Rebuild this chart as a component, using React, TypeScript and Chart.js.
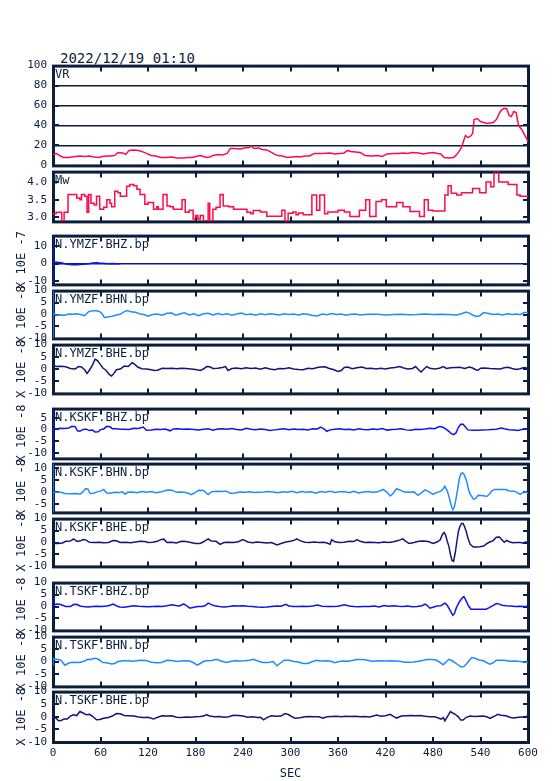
import { useEffect, useRef } from 'react';
import { Chart, registerables } from 'chart.js';

Chart.register(...registerables);

type Pt = [number, number];

// ---------- data ----------
const titleText = '2022/12/19 01:10';
const xTicks = [0, 60, 120, 180, 240, 300, 360, 420, 480, 540, 600];
const vrTicks = [0, 20, 40, 60, 80, 100];
const mwTicks = [3.0, 3.5, 4.0];
const bhz7Ticks = [-10, 0, 10];
const stdTicks = [-10, -5, 0, 5, 10];
const ksBHZTicks = [-10, -5, 0, 5];
const ksBHNTicks = [-5, 0, 5, 10];

const vrData: Pt[] = [
  [0, 11], [4, 12], [8, 10], [13, 8], [20, 8], [28, 9], [34, 9.5], [40, 9], [46, 9.5], [52, 8.5], [58, 8], [62, 9],
  [68, 9.5], [74, 9.5], [78, 10], [82, 13], [88, 12.5], [92, 11], [96, 15], [102, 15.5], [108, 15], [112, 14],
  [118, 12], [124, 10], [130, 9.5], [136, 8], [142, 8], [150, 8.5], [156, 7.5], [164, 7.5], [170, 8], [176, 8],
  [180, 9], [186, 10], [190, 9], [194, 8], [198, 8.5], [202, 10], [208, 11], [214, 10.5], [220, 12], [224, 17],
  [230, 17], [236, 16.5], [242, 17.5], [248, 18], [250, 19.5], [254, 17], [260, 17.5], [264, 16], [270, 15.5],
  [276, 13], [280, 11], [284, 10], [290, 9.5], [296, 8], [302, 8.5], [308, 9], [312, 8.5], [318, 9.5], [324, 9.5],
  [330, 12], [340, 12], [350, 12.5], [356, 11.5], [362, 12], [368, 12.5], [372, 15], [376, 14], [382, 13.5],
  [388, 13], [394, 10], [402, 9.5], [410, 10], [416, 9], [422, 11.5], [430, 12], [436, 12], [442, 12.5], [448, 12],
  [454, 13], [462, 12.5], [468, 11.5], [474, 12.5], [480, 13], [486, 12], [490, 11.5], [494, 8], [500, 7.5],
  [506, 8], [510, 11], [513, 14], [516, 18], [518, 23], [521, 30], [524, 28], [527, 29], [530, 32], [532, 46],
  [536, 47], [540, 44], [548, 42], [556, 43], [560, 46], [565, 54], [569, 57], [573, 57], [576, 50], [579, 49],
  [582, 54], [585, 53], [588, 40], [592, 36], [596, 30], [600, 24],
];

const mwData: Pt[] = [
  [0, 3.1], [4, 3.14], [11, 2.9], [14, 3.14], [19, 3.65], [30, 3.55], [34, 3.5], [36, 3.65], [40, 3.6], [43, 3.14],
  [45, 3.65], [48, 3.4], [52, 3.35], [55, 3.6], [59, 3.23], [64, 3.28], [68, 3.5], [72, 3.4], [74, 3.3], [78, 3.74],
  [82, 3.7], [85, 3.6], [93, 3.88], [97, 3.93], [102, 3.9], [106, 3.8], [110, 3.65], [116, 3.37], [120, 3.42],
  [127, 3.23], [131, 3.3], [133, 3.23], [139, 3.65], [144, 3.32], [148, 3.3], [152, 3.23], [163, 3.5], [167, 3.14],
  [172, 3.2], [177, 2.95], [180, 3.05], [183, 2.95], [186, 3.05], [190, 2.9], [196, 3.4], [198, 2.9], [202, 3.23],
  [206, 3.28], [211, 3.65], [215, 3.32], [222, 3.3], [228, 3.23], [245, 3.14], [250, 3.1], [253, 3.19], [262, 3.15],
  [270, 3.03], [289, 3.2], [293, 2.88], [297, 3.11], [303, 3.15], [307, 3.07], [310, 3.12], [316, 3.07], [327, 3.63],
  [333, 3.2], [337, 3.63], [343, 3.1], [347, 3.15], [360, 3.2], [368, 3.15], [375, 3.02], [387, 3.2], [395, 3.5],
  [400, 3.02], [408, 3.45], [415, 3.5], [421, 3.3], [434, 3.42], [442, 3.3], [451, 3.16], [463, 3.02], [469, 3.5],
  [474, 3.2], [480, 3.18], [495, 3.63], [499, 3.9], [503, 3.68], [510, 3.63], [516, 3.7], [530, 3.82], [539, 3.7],
  [547, 4.0], [553, 3.87], [557, 4.3], [563, 4.0], [575, 3.93], [586, 3.63], [590, 3.6], [600, 3.6],
];

const yzBHZ: Pt[] = [
  [0, -11.7], [0, 15.8], [0, 1.0], [5, 0.8], [10, 0.5], [18, -0.3], [24, -0.6], [30, -0.6], [38, -0.3], [45, 0],
  [50, 0.3], [55, 0.5], [58, 0.3], [62, 0.2], [70, 0], [75, 0.1], [80, 0], [85, 0],
];

const yzBHN: Pt[] = [
  [0, 10], [0, -10], [0, 0.4], [5, -0.3], [10, -0.2], [15, -0.3], [20, 0.2], [25, 0.1], [30, 0.3], [35, 0],
  [40, -0.5], [45, 1.2], [50, 1.6], [55, 1.6], [59, 1.2], [62, 0.3], [65, -1.3], [70, -0.9], [75, -0.7], [80, -0.2],
  [85, 0.1], [90, 1.2], [94, 1.7], [98, 1.1], [104, 0.9], [110, 0.2], [115, 0], [120, -0.7], [126, 0], [132, 0.2],
  [138, -0.3], [144, 0.5], [150, 0.6], [155, -0.3], [160, 0.2], [166, 0.7], [172, -0.2], [178, 0.3], [184, -0.5],
  [190, 0.3], [196, 0.5], [202, -0.2], [208, 0.4], [214, -0.1], [220, 0.3], [226, -0.3], [232, 0.2], [238, 0.6],
  [244, -0.1], [250, 0.2], [256, -0.3], [262, 0.3], [268, -0.1], [274, 0.3], [280, 0.1], [286, -0.2], [292, 0.3],
  [298, 0], [304, 0.2], [310, -0.2], [316, 0.3], [322, 0.1], [328, -0.4], [334, -0.6], [340, 0.2], [346, -0.1],
  [352, 0.4], [358, 0], [364, 0.2], [370, -0.3], [376, 0.1], [382, 0.2], [388, -0.2], [394, 0], [400, 0.1],
  [410, 0.1], [420, -0.2], [430, 0], [440, 0.1], [450, -0.1], [460, 0], [470, 0.2], [480, 0], [490, 0.1], [500, 0],
  [510, -0.2], [516, 0.3], [522, 1.0], [526, 0.6], [530, -0.2], [535, -0.8], [539, -0.5], [544, 0.8], [550, 0.4],
  [556, 0], [562, 0.2], [568, -0.2], [574, 0.3], [580, 0], [586, 0.2], [590, -0.1], [595, 0.8], [600, 0.8],
];

const yzBHE: Pt[] = [
  [0, 1.7], [4, 1.0], [10, 1.1], [16, 0.9], [22, 0.2], [28, 0], [32, 1.0], [36, 0.8], [40, -0.3], [43, -1.8],
  [46, -0.5], [50, 1.7], [53, 4.0], [56, 3.5], [59, 2.2], [63, 0.4], [67, -0.5], [71, -2.2], [74, -2.9], [77, -1.8],
  [80, -0.3], [85, 0], [90, 1.2], [95, 1.0], [100, 2.6], [103, 2.0], [107, 0.8], [112, 0.1], [118, 0], [124, -0.3],
  [128, -0.6], [132, -0.5], [138, 0.3], [144, 0.2], [150, 0.3], [156, 0.1], [162, 0.3], [168, 0.2], [174, 0],
  [180, -0.2], [186, -0.6], [190, 0], [194, 1.0], [198, 0.9], [202, 0.2], [208, 0.3], [214, 0.6], [218, 1.0],
  [221, -0.6], [226, 0.2], [232, 0.4], [238, 0.1], [244, 0.5], [250, 0.2], [256, 0.4], [262, -0.1], [268, 0.5],
  [274, 0], [280, -0.3], [286, 0.2], [292, 0.1], [298, 0.5], [304, 0], [310, -0.2], [316, -0.3], [322, 0.3],
  [328, 0.1], [334, 0.6], [338, 0.8], [344, 0.9], [348, 0.3], [354, -0.2], [360, -1.0], [364, -0.6], [368, 0.6],
  [372, 0.8], [378, 0.1], [384, 0.5], [390, 0.8], [396, 0.2], [402, 0.3], [408, 0], [414, 0.3], [420, 0],
  [426, 0.4], [432, 0.6], [438, 1.0], [442, 0.5], [448, 0], [454, 0.2], [458, 1.0], [462, -0.4], [465, -1.2],
  [468, -0.2], [472, 1.0], [476, 0.3], [482, 0], [488, 0.3], [493, 1.0], [497, 0.2], [502, 0.5], [508, 0.6],
  [514, 0.7], [520, 0.2], [526, 0.8], [530, 0.4], [534, -0.3], [537, -0.5], [540, 0.3], [545, 0.4], [552, 0.2],
  [558, 0.1], [565, 0], [570, 0.5], [575, 0.7], [580, 0.2], [585, -0.2], [590, 0.1], [595, 0.6], [600, 0.3],
];

const ksBHZ: Pt[] = [
  [0, 8.9], [0, -12.4], [0, -0.1], [4, 0.1], [8, 0.5], [14, 0.4], [20, 0.6], [24, 1.3], [28, 1.2], [31, -0.6],
  [34, -0.8], [38, 0], [42, 0.1], [46, -0.5], [50, -0.3], [53, -1.1], [57, -1.0], [60, -0.1], [64, 0.2], [68, 1.3],
  [72, 1.1], [75, 0.3], [80, 0.3], [85, 0.1], [90, 0.1], [96, 0], [102, 0.5], [108, 0.4], [114, 1.0], [118, -0.4],
  [124, -0.3], [130, 0.1], [136, 0], [142, 0.2], [148, -0.6], [152, 0.2], [158, 0.3], [164, 0.1], [170, 0.2],
  [178, 0], [184, -0.2], [190, 0.1], [196, 0.3], [202, -0.3], [208, 0.2], [214, 0.3], [220, 0.1], [226, 0.4],
  [232, 0], [238, -0.2], [244, 0.5], [250, 0.1], [256, -0.1], [262, 0.2], [268, 0], [274, -0.5], [280, -0.2],
  [286, 0.1], [292, 0.3], [298, -0.1], [304, 0.2], [310, 0], [316, 0.1], [322, -0.2], [328, 0.3], [334, 0.2],
  [338, 1.0], [342, 0.2], [346, -0.8], [350, -0.2], [356, 0.1], [362, 0.3], [368, 0], [374, 0.1], [380, -0.2],
  [386, 0.3], [392, 0], [398, -0.1], [404, 0.2], [410, 0], [416, 0.4], [422, -0.3], [428, 0], [434, 0.1],
  [440, 0.3], [446, -0.2], [452, -0.4], [458, 0.1], [464, 0], [470, 0.2], [476, 0.5], [482, 0.3], [488, 1.2],
  [492, 1.0], [496, 0.2], [500, -0.8], [503, -1.8], [506, -2.2], [509, -1.5], [512, 0.8], [515, 2.2], [518, 2.2],
  [521, 1.0], [524, -0.2], [530, -0.4], [536, -0.4], [542, -0.3], [548, -0.2], [554, 0], [560, 0.1], [566, 0.6],
  [570, 0.3], [576, -0.1], [582, -0.3], [588, -0.5], [592, 0], [596, 0.1], [600, 0.1],
];

const ksBHN: Pt[] = [
  [0, 11.9], [0, -8.3], [0, 0.1], [5, 0], [10, 0], [15, -0.5], [22, -0.6], [30, -0.5], [34, -0.8], [38, 0.3],
  [41, 1.5], [44, 1.4], [47, -0.5], [51, -0.4], [56, 0.2], [60, 0.5], [64, 1.2], [68, -0.3], [72, -0.4], [78, 0],
  [84, -0.1], [88, 0.2], [91, -0.8], [94, 0], [100, 0.1], [106, -0.2], [112, 0.3], [118, 0], [124, 0.3],
  [130, -0.2], [136, 0.1], [144, 1.0], [150, 0.9], [156, 0], [162, 0.1], [168, -0.1], [175, -1.0], [180, 0],
  [184, 0.9], [190, 0.8], [196, -0.9], [200, 0.2], [206, 0.5], [212, 0.4], [219, 0.5], [224, -0.4], [230, -0.3],
  [236, 0.1], [242, 0], [248, 0.2], [254, -0.1], [260, 0], [266, 0.1], [272, 0.3], [278, 0.1], [284, -0.2],
  [290, 0.2], [296, 0], [302, 0.4], [308, -0.2], [314, 0.3], [320, 0], [326, 0.2], [332, -0.4], [338, 0.3],
  [344, 0], [350, 0.4], [356, -0.1], [362, 0.2], [368, 0.3], [374, -0.2], [380, 0.4], [386, -0.3], [392, 0.1],
  [398, 0.3], [404, 0], [410, 0.2], [417, 1.2], [422, 0], [426, -1.5], [430, -0.3], [434, 1.5], [438, 1.0],
  [444, 0.1], [450, 0], [456, 0.2], [461, -1.2], [466, 0], [470, 1.0], [475, 0.2], [480, -0.8], [485, 0],
  [490, 0.5], [493, 1.5], [495, 2.5], [498, 0.5], [500, -1.5], [503, -5.5], [505, -7.2], [507, -6], [509, -2.8],
  [511, 1], [513, 5.2], [515, 7.5], [517, 8.1], [519, 7.5], [521, 6], [523, 4], [525, 1], [527, -0.8], [531, -2.8],
  [534, -2.5], [537, -1.2], [542, -1.3], [548, -1.7], [551, -0.8], [554, 0.5], [558, 1.2], [566, 1.2], [572, 1.2],
  [576, 0.6], [582, 0.5], [586, 0], [590, -0.8], [594, 0], [597, 0.2], [600, -0.3],
];

const ksBHE: Pt[] = [
  [0, -0.4], [6, -0.4], [12, -0.2], [16, 0.5], [22, 0.6], [26, 1.5], [30, 0.5], [34, 0.6], [38, 1.2], [42, 1.0],
  [46, 0.1], [52, 0], [58, 0.1], [64, -0.1], [70, 0], [76, 0.8], [80, 0.7], [85, 0], [92, 0.1], [98, -0.1],
  [104, 0.2], [110, 0.5], [116, 0.4], [120, 0], [126, 0.1], [132, 0.5], [136, 1.2], [140, 1.4], [144, 0],
  [150, 0.1], [156, -0.2], [162, 0.5], [168, 0.4], [174, 0], [180, -0.4], [186, -0.4], [190, 0.3], [196, 1.5],
  [200, 0.6], [206, 0.5], [211, -0.8], [216, 0], [222, 0.1], [228, 0], [234, 0.3], [240, 1.2], [246, 0.2],
  [252, -0.1], [258, 0.2], [264, 0], [270, -0.2], [276, 0], [283, -1.0], [288, -0.4], [294, 0.2], [300, 0.5],
  [305, 1.0], [308, 1.5], [312, 0.8], [318, 0.1], [324, 0], [330, 0.2], [336, 0], [342, 0.1], [346, -0.2],
  [350, -0.7], [352, 1.2], [356, 0.3], [362, 0], [368, 0.1], [374, 0.5], [380, 0.4], [384, 1.2], [388, 0.5],
  [394, 0], [400, 0.1], [406, 0], [412, -0.1], [418, 0.2], [424, 0], [430, 0.3], [436, 0.8], [442, 1.5],
  [446, 0.4], [450, -0.4], [456, 0], [462, 0.5], [468, 0.6], [474, 0.4], [480, -0.4], [485, 0.2], [489, 1.0],
  [492, 3.5], [494, 4.2], [496, 3.0], [498, 0.5], [500, -1.5], [502, -5], [504, -7.5], [506, -7.9], [508, -4.5],
  [510, 0], [512, 4.5], [514, 6.7], [516, 8], [518, 8], [520, 6.5], [522, 4.6], [524, 2], [527, -0.8], [531, -1.9],
  [535, -1.9], [539, -1.8], [544, -1.5], [548, -0.5], [551, 0.1], [556, 0.8], [560, 2.2], [564, 2.3], [567, 1.2],
  [570, 0.1], [573, 0.9], [577, 0.2], [581, -0.1], [586, 0], [590, 0], [594, -0.2], [597, 0.2], [600, 0.1],
];

const tsBHZ: Pt[] = [
  [0, -3.4], [0, 3.5], [0, 0.3], [4, 1], [8, 0.9], [12, 0.5], [16, 0], [22, 0], [26, 0.8], [30, 0.9], [34, 0.2],
  [38, 0], [44, -0.2], [50, 0], [56, 0.1], [62, 0], [68, 0.2], [72, 0.5], [76, 1.0], [80, 0.3], [84, -0.2],
  [90, -0.3], [96, 0], [102, 0.3], [108, 0.1], [114, 0], [120, -0.1], [126, 0], [132, 0.1], [138, 0], [144, 0.3],
  [150, 0.7], [155, 0.4], [160, 0.2], [165, 1.1], [169, 0.3], [173, -0.7], [178, -0.3], [183, 0], [188, 0],
  [192, 0.3], [196, 1.4], [200, 0.8], [204, 0.3], [210, 0], [216, -0.2], [222, 0], [228, 0.3], [234, 0.2],
  [240, 0.3], [246, 0.1], [252, 0], [258, -0.2], [264, -0.3], [270, -0.2], [276, 0], [282, 0.2], [288, 0.1],
  [294, 0.9], [298, 0.2], [304, 0], [310, 0], [316, 0.1], [322, 0], [328, 0.2], [334, 0.6], [340, 0.1], [348, 0],
  [354, 0], [360, 0.1], [368, 0.7], [374, 0.2], [380, 0], [386, -0.1], [392, 0], [400, 0], [406, 0.2], [412, -0.2],
  [418, 0.4], [424, 0.1], [430, 0.3], [436, 0.1], [442, 0], [448, 0.2], [454, -0.1], [460, 0], [466, 0.3],
  [470, 1.0], [473, 0.4], [476, -0.7], [480, -0.3], [485, 0.2], [490, 0.3], [493, 1.0], [495, 1.4], [498, 0.5],
  [500, -0.7], [503, -2.5], [505, -3.7], [507, -3], [509, -1], [511, 0.5], [513, 1.8], [515, 2.7], [517, 3.6],
  [519, 4.1], [521, 3], [523, 1.5], [525, 0.2], [528, -1.1], [535, -1.1], [542, -1.1], [547, -1.1], [551, -0.5],
  [555, 0.3], [560, 1.2], [563, 1.1], [567, 0.5], [572, 0.3], [578, 0.2], [584, 0], [590, 0.1], [595, 0],
  [600, 0.1],
];

const tsBHN: Pt[] = [
  [0, -1.7], [0, 1.5], [0, 0.9], [5, 0.9], [10, 0.5], [15, -1.5], [19, -0.8], [22, -0.4], [28, -0.3], [34, -0.4],
  [40, 0.2], [44, 0.9], [48, 0.8], [52, 1.3], [55, 1.2], [59, 0.5], [63, -0.4], [68, -0.5], [74, -1.0], [78, -0.8],
  [82, 0], [89, 0.3], [95, 0.3], [102, 0.1], [110, 0.5], [118, 0.4], [124, -0.3], [131, -0.5], [137, -0.4],
  [144, 0.5], [150, 0.4], [156, 0], [162, 0.2], [168, 0.3], [173, 0.2], [178, -0.6], [182, -1.5], [186, -0.8],
  [190, 0], [194, 0.3], [200, 0.4], [207, 0.9], [212, 0.2], [219, -0.4], [224, 0], [230, 0.3], [236, 0.2],
  [242, 0.3], [248, 0.5], [253, 0.9], [258, 0.3], [265, -0.4], [272, -0.4], [278, 0], [283, -1.7], [288, -0.4],
  [292, 0.5], [298, 0.5], [304, 0], [310, -0.2], [316, -0.8], [322, -0.8], [328, 0], [333, 0.5], [338, 0.2],
  [344, 0.3], [350, 0.2], [356, -0.5], [362, 0], [367, 0.2], [372, 0.1], [378, 0.4], [384, 0.8], [390, 0.8],
  [396, 0.6], [402, 0.1], [408, 0.2], [414, 0.3], [420, 0.2], [426, 0.3], [432, 0.2], [438, 0.1], [444, -0.3],
  [450, -0.3], [456, -0.2], [462, 0.1], [468, 0.5], [472, 0.8], [478, 0.8], [484, 0.6], [488, -0.2], [493, -1.3],
  [497, 0], [500, 0.9], [503, 0.5], [507, -0.3], [511, -1.2], [515, -2.1], [519, -2.0], [522, -1.1], [526, 0.5],
  [529, 1.6], [533, 1.3], [538, 0.6], [544, 0.3], [548, -0.5], [552, -1.1], [556, -0.5], [560, 0.5], [566, 0.5],
  [572, 0.4], [578, 0.1], [584, 0.2], [590, 0], [595, -0.2], [600, -0.4],
];

const tsBHE: Pt[] = [
  [0, 2.0], [2, 0], [7, -1.6], [10, -1.5], [14, -0.9], [18, -0.9], [22, 0.3], [26, 0.8], [30, 0.5], [34, 2.1],
  [38, 1.5], [42, 0.8], [46, 1.0], [50, 0.2], [55, -1.2], [59, -1.1], [64, -0.6], [70, -0.3], [75, 0.3], [80, 1.3],
  [85, 1.2], [90, 0.5], [95, 0.4], [102, 0.3], [108, -0.1], [114, -0.3], [120, -0.2], [127, -0.9], [132, -0.2],
  [138, 0.4], [144, 0.3], [150, 0.4], [156, -0.2], [162, -0.3], [168, -0.1], [174, -0.2], [180, 0], [186, 0.1],
  [190, 0.3], [194, 0.8], [198, 0.3], [204, 0], [210, 0.1], [216, -0.2], [222, 0], [228, 0.6], [234, 0.5],
  [240, 0.3], [246, -0.2], [252, 0], [258, -0.3], [262, -0.2], [266, -1.2], [270, -0.3], [276, 0.4], [282, 0.2],
  [288, 0.3], [293, 1.3], [298, 0.8], [302, 0], [306, -0.6], [312, -0.4], [318, 0], [324, 0.1], [330, 0],
  [336, 0], [341, -0.6], [346, 0], [352, 0.1], [358, 0.2], [364, 0], [370, 0.2], [376, 0.1], [382, 0.2], [388, 0],
  [394, 0.1], [400, -0.1], [409, 0.7], [414, 0.2], [420, 0.4], [426, 1.0], [430, 0.2], [434, -0.5], [440, 0.3],
  [446, 0.4], [452, 0.5], [458, 0.4], [464, 0.5], [470, 0.2], [476, 0], [482, 0], [487, -0.5], [490, -0.9],
  [493, -0.3], [495, -1.6], [498, 0], [502, 2.1], [505, 1.5], [508, 1.0], [512, 0], [515, -1.3], [518, -1.3],
  [522, -0.2], [527, 0.3], [532, 0.1], [538, 0.2], [543, 0.3], [548, 0], [552, -0.6], [556, 0], [562, 1.0],
  [566, 0.6], [572, 0.4], [578, -0.3], [582, -0.5], [588, -0.2], [592, -0.1], [596, 0], [600, 0.2],
];

// ---------- styles / layout ----------
const NAVY = '#0b1f3c';
const RED = '#ff0a4a';
const BLUE = '#1212f0';
const SKY = '#1f8cff';
const DEEP = '#14147e';
const MONO = '"DejaVu Sans Mono", "Liberation Mono", monospace';

interface PanelSpec {
  label: string;
  axisTitle: string;
  data: Pt[];
  color: string;
  top: number;
  bottom: number;
  min: number;
  max: number;
  yTicks: number[];
  decimals: number;
  grid: 'all' | 'zero' | 'none';
  stepped: boolean;
  last: boolean;
}

const mk = (p: Partial<PanelSpec> & Pick<PanelSpec, 'label' | 'data' | 'color' | 'top' | 'bottom'>): PanelSpec => ({
  axisTitle: 'X 10E -8',
  min: -10,
  max: 10,
  yTicks: stdTicks,
  decimals: 0,
  grid: 'none',
  stepped: false,
  last: false,
  ...p,
});

const panels: PanelSpec[] = [
  mk({ label: 'VR', axisTitle: '', data: vrData, color: RED, top: 65, bottom: 166, min: 0, max: 100, yTicks: vrTicks, grid: 'all' }),
  mk({ label: 'Mw', axisTitle: '', data: mwData, color: RED, top: 171, bottom: 222, min: 2.88, max: 4.3, yTicks: mwTicks, decimals: 1, stepped: true }),
  mk({ label: 'N.YMZF.BHZ.bp', axisTitle: 'X 10E -7', data: yzBHZ, color: BLUE, top: 235, bottom: 285, min: -11.7, max: 15.8, yTicks: bhz7Ticks, grid: 'zero' }),
  mk({ label: 'N.YMZF.BHN.bp', data: yzBHN, color: SKY, top: 290, bottom: 339 }),
  mk({ label: 'N.YMZF.BHE.bp', data: yzBHE, color: DEEP, top: 344, bottom: 394 }),
  mk({ label: 'N.KSKF.BHZ.bp', data: ksBHZ, color: BLUE, top: 408, bottom: 459, min: -12.4, max: 8.9, yTicks: ksBHZTicks }),
  mk({ label: 'N.KSKF.BHN.bp', data: ksBHN, color: SKY, top: 463, bottom: 513, min: -8.3, max: 11.9, yTicks: ksBHNTicks }),
  mk({ label: 'N.KSKF.BHE.bp', data: ksBHE, color: DEEP, top: 518, bottom: 567 }),
  mk({ label: 'N.TSKF.BHZ.bp', data: tsBHZ, color: BLUE, top: 582, bottom: 631 }),
  mk({ label: 'N.TSKF.BHN.bp', data: tsBHN, color: SKY, top: 636, bottom: 687 }),
  mk({ label: 'N.TSKF.BHE.bp', data: tsBHE, color: DEEP, top: 691, bottom: 742, last: true }),
];

const W = 554;
const PAD = 12;
const X_AXIS_H = 39;

function Panel({ spec }: { spec: PanelSpec }) {
  const ref = useRef<HTMLCanvasElement>(null);
  const padBottom = spec.last ? 0 : PAD;
  const h = spec.bottom - spec.top + PAD + padBottom + (spec.last ? X_AXIS_H : 0);

  useEffect(() => {
    const canvas = ref.current;
    if (!canvas) return;

    const framePlugin = {
      id: 'frame',
      beforeDatasetsDraw(chart: any) {
        const { ctx, chartArea: a, scales } = chart;
        ctx.save();
        ctx.strokeStyle = NAVY;
        ctx.lineWidth = 3;
        ctx.strokeRect(a.left + 0.5, a.top + 0.5, a.right - a.left, a.bottom - a.top);
        ctx.lineWidth = 2;
        ctx.beginPath();
        for (const t of xTicks) {
          if (t === xTicks[0] || t === xTicks[xTicks.length - 1]) continue;
          const x = Math.round(scales.x.getPixelForValue(t));
          ctx.moveTo(x, a.top);
          ctx.lineTo(x, a.top + 6);
          ctx.moveTo(x, a.bottom);
          ctx.lineTo(x, a.bottom - 5);
        }
        for (const v of spec.yTicks) {
          const y = Math.round(scales.y.getPixelForValue(v));
          if (y <= a.top + 2 || y >= a.bottom - 2) continue;
          ctx.moveTo(a.left, y);
          ctx.lineTo(a.left + 6, y);
          ctx.moveTo(a.right, y);
          ctx.lineTo(a.right - 5, y);
        }
        ctx.stroke();
        ctx.restore();
      },
      afterDatasetsDraw(chart: any) {
        const { ctx, chartArea: a } = chart;
        ctx.save();
        ctx.font = `12px ${MONO}`;
        ctx.fillStyle = NAVY;
        ctx.textBaseline = 'top';
        ctx.textAlign = 'left';
        ctx.fillText(spec.label, a.left + 2, a.top + 3.5);
        ctx.restore();
      },
    };

    const tickFont = { family: MONO, size: 11 };

    const chart = new Chart(canvas, {
      type: 'line',
      data: {
        datasets: [
          {
            data: spec.data.map(([x, y]) => ({ x, y })),
            borderColor: spec.color,
            borderWidth: 1.5,
            pointRadius: 0,
            fill: false,
            tension: 0,
            stepped: spec.stepped ? 'before' : false,
          } as any,
        ],
      },
      options: {
        responsive: false,
        animation: false,
        devicePixelRatio: 1,
        events: [],
        layout: { padding: { top: PAD, bottom: padBottom, left: 0, right: W - 528 } },
        plugins: { legend: { display: false }, tooltip: { enabled: false }, title: { display: false } },
        scales: {
          x: {
            type: 'linear',
            min: 0,
            max: 600,
            display: spec.last,
            afterBuildTicks: (s: any) => {
              s.ticks = xTicks.map((value) => ({ value }));
            },
            ...(spec.last ? { afterFit: (s: any) => { s.height = X_AXIS_H; } } : {}),
            grid: { display: false, drawTicks: false },
            border: { display: false },
            ticks: {
              color: NAVY,
              font: tickFont,
              padding: 5,
              autoSkip: false,
              maxRotation: 0,
              callback: (v: any) => String(v),
            },
            title: {
              display: true,
              text: 'SEC',
              color: NAVY,
              font: { family: MONO, size: 12 },
              padding: { top: 0, bottom: 0 },
            },
          },
          y: {
            type: 'linear',
            min: spec.min,
            max: spec.max,
            afterBuildTicks: (s: any) => {
              s.ticks = spec.yTicks.map((value) => ({ value }));
            },
            afterFit: (s: any) => {
              s.width = 53;
            },
            grid: {
              display: spec.grid !== 'none',
              drawTicks: false,
              lineWidth: spec.grid === 'all' ? 1.6 : 1.5,
              color: (c: any) =>
                spec.grid === 'all'
                  ? NAVY
                  : c.tick && c.tick.value === 0
                    ? '#15159a'
                    : 'rgba(0,0,0,0)',
            },
            border: { display: false },
            ticks: {
              color: NAVY,
              font: tickFont,
              padding: 6,
              autoSkip: false,
              callback: (v: any) => Number(v).toFixed(spec.decimals),
            },
            title: {
              display: spec.axisTitle !== '',
              text: spec.axisTitle,
              color: NAVY,
              font: { family: MONO, size: 12 },
              padding: { top: 15, bottom: 0 },
            },
          },
        },
      } as any,
      plugins: [framePlugin],
    });
    return () => chart.destroy();
  }, [spec]);

  return (
    <canvas
      ref={ref}
      width={W}
      height={h}
      style={{ position: 'absolute', left: 0, top: spec.top - PAD, width: W, height: h, display: 'block' }}
    />
  );
}

export default function App() {
  return (
    <div style={{ position: 'absolute', left: 0, top: 0, width: W, height: 781, background: '#ffffff', overflow: 'hidden' }}>
      <div
        style={{
          position: 'absolute',
          left: 60,
          top: 51,
          font: `14px ${MONO}`,
          lineHeight: '14px',
          color: NAVY,
          whiteSpace: 'pre',
        }}
      >
        {titleText}
      </div>
      {panels.map((p) => (
        <Panel key={p.label} spec={p} />
      ))}
    </div>
  );
}
